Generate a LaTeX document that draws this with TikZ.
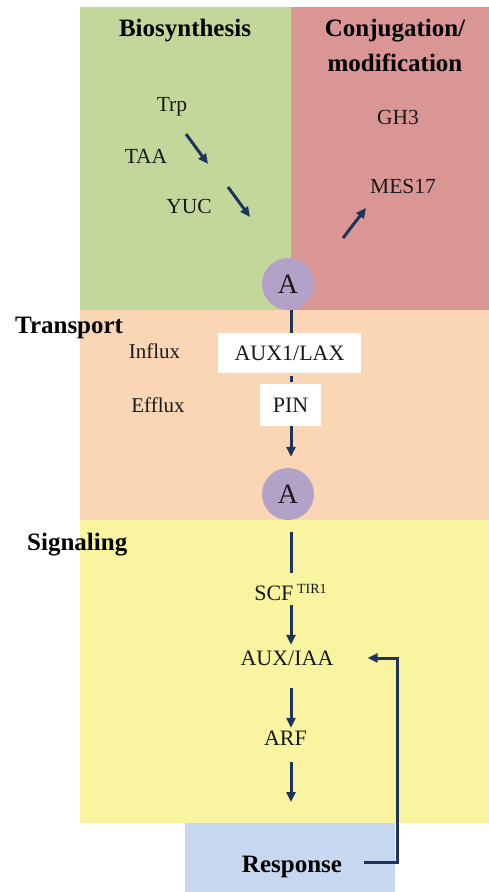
\documentclass[tikz,border=0pt]{standalone}
\usepackage{fontspec}
\setmainfont{Liberation Serif}
\usetikzlibrary{arrows.meta}

\definecolor{bioGreen}{RGB}{196,215,155}
\definecolor{conjRed}{RGB}{218,150,149}
\definecolor{transOrange}{RGB}{251,214,180}
\definecolor{sigYellow}{RGB}{248,244,160}
\definecolor{respBlue}{RGB}{198,216,240}
\definecolor{auxPurple}{RGB}{178,162,200}
\definecolor{arrowNavy}{RGB}{31,52,92}
\definecolor{inkDark}{RGB}{25,25,25}

\tikzset{
  heading/.style={font=\fontsize{25}{35}\selectfont\bfseries, text=black, inner sep=0, anchor=base},
  label/.style={font=\fontsize{21.5}{24}\selectfont, text=inkDark, inner sep=0, anchor=base},
  chain/.style={font=\fontsize{22}{24}\selectfont, text=inkDark, inner sep=0,
                text height=15pt, text depth=5pt},
  auxin/.style={circle, fill=auxPurple, minimum size=52pt, inner sep=0,
                font=\fontsize{28}{30}\selectfont, text=inkDark},
  carrier/.style={fill=white, inner sep=0, font=\fontsize{22}{24}\selectfont, text=inkDark},
  link/.style={draw=arrowNavy, line width=3pt},
  arr/.style={link, -{Triangle[length=10pt,width=9pt]}},
}

\begin{document}
\begin{tikzpicture}[x=1pt, y=-1pt]
\useasboundingbox (0,0) rectangle (489,892);
\fill[white] (0,0) rectangle (489,892);

% coloured compartments
\fill[bioGreen]    (80,7)    rectangle (291,310);
\fill[conjRed]     (291,7)   rectangle (489,310);
\fill[transOrange] (80,310)  rectangle (489,520);
\fill[sigYellow]   (80,520)  rectangle (489,823);
\fill[respBlue]    (185,823) rectangle (395,892);

% section headings
\node[heading] (hbio) at (185,36) {Biosynthesis};
\node[heading] (hconj) at (395,36) {Conjugation/};
\node[heading] (hmod) at (395,71) {modification};
\node[heading, anchor=base west] (htrans) at (15,333) {Transport};
\node[heading, anchor=base west] (hsig) at (27,550) {Signaling};

% biosynthesis and conjugation labels
\node[label] (trp) at (172,111) {Trp};
\node[label] (taa) at (146,163) {TAA};
\node[label] (yuc) at (189,213) {YUC};
\node[label] (gh3) at (398,124) {GH3};
\node[label] (mes) at (403,193) {MES17};

\coordinate (b1s) at (186,134);
\coordinate (b1e) at (208,164);
\coordinate (b2s) at (228,187);
\coordinate (b2e) at (250,217);
\coordinate (c1s) at (343,238);
\coordinate (c1e) at (366,208);
\draw[arr] (b1s) -- (b1e);
\draw[arr] (b2s) -- (b2e);
\draw[arr] (c1s) -- (c1e);

% transport
\coordinate (spine) at (291,0);
\node[auxin] (A1) at (288,284) {A};
\node[carrier, minimum width=143pt, minimum height=40pt] (aux1) at (289.5,353) {AUX1/LAX};
\node[carrier, minimum width=61pt, minimum height=42pt] (pin) at (290.5,405) {PIN};
\node[label, font=\fontsize{21}{24}\selectfont] (influx) at (154.5,358) {Influx};
\node[label, font=\fontsize{21}{24}\selectfont] (efflux) at (158,412) {Efflux};
\node[auxin] (A2) at (288,494) {A};

\draw[link] (A1.south -| spine) -- (aux1.north -| spine);
\draw[link, shorten <=3pt, shorten >=2pt] (aux1.south -| spine) -- (pin.north -| spine);
\draw[arr, shorten >=11pt] (pin.south -| spine) -- (A2.north -| spine);

% signaling
\node[chain] (scf) at (290.5,595) {SCF\,\raisebox{7pt}{\fontsize{14}{14}\selectfont TIR1}};
\node[chain] (auxiaa) at (287,660) {AUX/IAA};
\node[chain] (arf) at (285.5,740) {ARF};
\coordinate (out) at (291,802);

\draw[link, shorten <=12pt, shorten >=12pt] (A2.south -| spine) -- (scf.north -| spine);
\draw[arr, shorten >=5pt] (scf.south -| spine) -- (auxiaa.north -| spine);
\draw[arr, shorten <=18pt, shorten >=2pt] (auxiaa.south -| spine) -- (arf.north -| spine);
\draw[arr, shorten <=12pt] (arf.south -| spine) -- (out);

% response and feedback loop
\node[heading] (resp) at (292,872) {Response};
\coordinate (fb) at (397,658);
\draw[arr, line join=miter] ([xshift=22pt, yshift=4pt]resp.east) -| (fb) -- ([xshift=34pt]auxiaa.east |- fb);
\end{tikzpicture}
\end{document}
